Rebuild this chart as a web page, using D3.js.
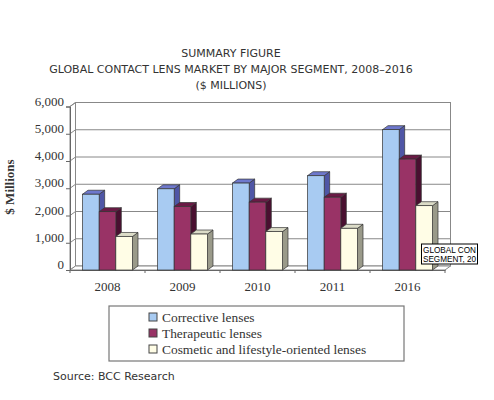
<!DOCTYPE html>
<html>
<head>
    <title>Global Contact Lens Market</title>
    <script src="https://d3js.org/d3.v7.min.js"></script>
    <style>
        body { margin: 0; background: #fff; }
        .title { font-family: "DejaVu Sans", Verdana, sans-serif; font-size: 11px; fill: #333; }
        .serif { font-family: "Liberation Serif", "Times New Roman", serif; fill: #333; }
        .grid { stroke: #888; stroke-width: 1; }
    </style>
</head>
<body>
    <div id="chart"></div>

    <script>
        const years = ["2008", "2009", "2010", "2011", "2016"];
        const seriesNames = ["Corrective lenses", "Therapeutic lenses", "Cosmetic and lifestyle-oriented lenses"];
        const corrective = [2780, 2980, 3190, 3460, 5150];
        const therapeutic = [2140, 2330, 2490, 2670, 4070];
        const cosmetic = [1230, 1320, 1410, 1530, 2360];
        const yTicks = [0, 1000, 2000, 3000, 4000, 5000, 6000];
        const titleLines = ["SUMMARY FIGURE", "GLOBAL CONTACT LENS MARKET BY MAJOR SEGMENT, 2008\u20132016", "($ MILLIONS)"];
        const tipLines = ["GLOBAL CON", "SEGMENT, 20"];

        const values = [corrective, therapeutic, cosmetic];
        // front, top, side colours per series
        const colors = [
            { front: "#a8cbf2", top: "#6e78cc", side: "#4f56a6" },
            { front: "#993366", top: "#6a1a45", side: "#4a0f30" },
            { front: "#fffde6", top: "#dcdcc8", side: "#9a9a8a" }
        ];

        const width = 494, height = 400;
        const dx = 5.5, dy = -4;   // 3D depth offset

        const svg = d3.select("#chart")
            .append("svg")
            .attr("width", width)
            .attr("height", height);

        // titles
        svg.selectAll(".title")
            .data(titleLines)
            .join("text")
            .attr("class", "title")
            .attr("x", 231)
            .attr("y", (d, i) => 57 + i * 16)
            .attr("text-anchor", "middle")
            .text(d => d);

        const x = d3.scaleBand()
            .domain(years)
            .range([70, 445])
            .paddingInner(1 / 3)
            .paddingOuter(1 / 6);

        const xs = d3.scaleBand()
            .domain(d3.range(seriesNames.length))
            .range([0, x.bandwidth()]);

        const y = d3.scaleLinear()
            .domain([0, 6000])
            .range([270, 106.5]);

        const [x0, x1] = x.range();

        // back wall
        svg.append("rect")
            .attr("x", x0 + dx).attr("y", y(6000) + dy)
            .attr("width", x1 - x0).attr("height", y(0) - y(6000))
            .attr("fill", "#fff").attr("stroke", "#888");

        // left side wall
        svg.append("path")
            .attr("d", `M${x0},${y(0)}L${x0},${y(6000)}L${x0 + dx},${y(6000) + dy}L${x0 + dx},${y(0) + dy}Z`)
            .attr("fill", "#fff").attr("stroke", "#888");

        // floor
        svg.append("path")
            .attr("d", `M${x0},${y(0)}L${x1},${y(0)}L${x1 + dx},${y(0) + dy}L${x0 + dx},${y(0) + dy}Z`)
            .attr("fill", "#fff").attr("stroke", "#888");

        // gridlines on back wall and side wall
        svg.selectAll(".grid")
            .data(yTicks.slice(1))
            .join("path")
            .attr("class", "grid")
            .attr("fill", "none")
            .attr("d", d => `M${x0},${y(d)}L${x0 + dx},${y(d) + dy}L${x1 + dx},${y(d) + dy}`);

        // y axis
        const yAxis = d3.axisLeft(y)
            .tickValues(yTicks)
            .tickSize(4)
            .tickFormat(d3.format(","));
        const gy = svg.append("g")
            .attr("transform", `translate(${x0},0)`)
            .call(yAxis);
        gy.select(".domain").attr("stroke", "#666");
        gy.selectAll(".tick line").attr("stroke", "#666");
        gy.selectAll(".tick text")
            .attr("class", "serif")
            .attr("font-size", 13)
            .attr("dy", "-0.1em")
            .attr("x", -6);

        // x axis
        const gx = svg.append("g")
            .attr("transform", `translate(0,${y(0)})`)
            .call(d3.axisBottom(x).tickSize(0).tickPadding(12));
        gx.select(".domain").attr("stroke", "#666");
        gx.selectAll(".tick text")
            .attr("class", "serif")
            .attr("font-size", 13);
        const boundaries = years.map(d => x(d) - x.step() * x.paddingInner() / 2).concat([x1]);
        gx.selectAll(".xt")
            .data(boundaries)
            .join("line")
            .attr("class", "xt")
            .attr("x1", d => d).attr("x2", d => d)
            .attr("y1", 0).attr("y2", 3)
            .attr("stroke", "#666");

        // bars
        const bars = [];
        years.forEach((yr, i) => {
            values.forEach((vals, s) => {
                bars.push({ year: yr, s: s, value: vals[i] });
            });
        });

        const barG = svg.append("g");
        const bw = xs.bandwidth();
        bars.forEach(b => {
            const bx = x(b.year) + xs(b.s);
            const by = y(b.value);
            const base = y(0);
            const c = colors[b.s];
            const g = barG.append("g");
            g.append("path")
                .attr("d", `M${bx + bw},${base}L${bx + bw},${by}L${bx + bw + dx},${by + dy}L${bx + bw + dx},${base + dy}Z`)
                .attr("fill", c.side).attr("stroke", "#333").attr("stroke-width", 0.7);
            g.append("path")
                .attr("d", `M${bx},${by}L${bx + dx},${by + dy}L${bx + bw + dx},${by + dy}L${bx + bw},${by}Z`)
                .attr("fill", c.top).attr("stroke", "#333").attr("stroke-width", 0.7);
            g.append("rect")
                .attr("x", bx).attr("y", by)
                .attr("width", bw).attr("height", base - by)
                .attr("fill", c.front).attr("stroke", "#333").attr("stroke-width", 0.7);
        });

        // y axis title
        svg.append("text")
            .attr("class", "serif")
            .attr("font-size", 13)
            .attr("font-weight", "bold")
            .attr("transform", "translate(14,187) rotate(-90)")
            .attr("text-anchor", "middle")
            .text("$ Millions");

        // leftover tooltip box
        const tip = svg.append("g").attr("transform", "translate(421.5,244)");
        tip.append("rect")
            .attr("width", 56).attr("height", 20)
            .attr("fill", "#fff").attr("stroke", "#000");
        tip.selectAll("text")
            .data(tipLines)
            .join("text")
            .attr("x", 1.5)
            .attr("y", (d, i) => 8.5 + i * 9.5)
            .attr("font-family", "'Liberation Sans', Arial, sans-serif")
            .attr("font-size", 9)
            .attr("textLength", 53)
            .attr("lengthAdjust", "spacingAndGlyphs")
            .attr("fill", "#000")
            .text(d => d);

        // legend
        const legend = svg.append("g");
        legend.append("rect")
            .attr("x", 109).attr("y", 306)
            .attr("width", 295).attr("height", 55)
            .attr("fill", "#fff").attr("stroke", "#777").attr("stroke-width", 1.2);
        const li = legend.selectAll(".li")
            .data(seriesNames)
            .join("g")
            .attr("class", "li")
            .attr("transform", (d, i) => `translate(149,${313 + i * 16})`);
        li.append("rect")
            .attr("width", 8).attr("height", 8)
            .attr("fill", (d, i) => colors[i].front)
            .attr("stroke", "#444");
        li.append("text")
            .attr("class", "serif")
            .attr("x", 13)
            .attr("y", 8.5)
            .attr("font-size", 13.4)
            .text(d => d);

        // source
        svg.append("text")
            .attr("class", "title")
            .attr("font-size", 11.5)
            .attr("fill", "#444")
            .attr("x", 53)
            .attr("y", 380)
            .text("Source: BCC Research");
    </script>
</body>
</html>
